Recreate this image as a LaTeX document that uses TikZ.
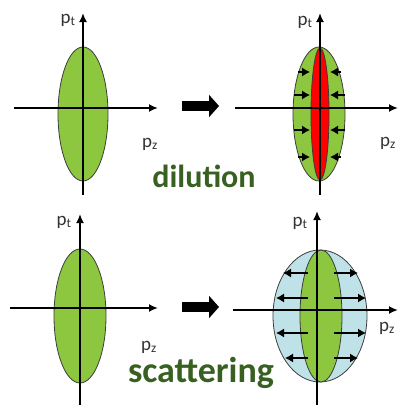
\documentclass[tikz,border=0pt]{standalone}
\usepackage{fontspec}
\setmainfont{Carlito}
\usetikzlibrary{arrows.meta}
\definecolor{leaf}{RGB}{141,198,63}
\definecolor{sky}{RGB}{190,226,231}
\definecolor{txtgreen}{RGB}{56,96,32}
\definecolor{edge}{RGB}{60,60,60}
\tikzset{
  axis/.style={line width=1.8pt, black, -{Latex[length=9pt,width=8pt]}},
  blob/.style={draw=edge, line width=0.8pt},
  flow/.style={line width=1.2pt, black, -{Latex[length=8pt,width=9pt]}},
  bigarrow/.style={line width=10pt, black, -{Triangle[length=10pt,width=22pt]}},
  plabel/.style={text=black!80, font=\fontsize{19}{19}\selectfont, inner sep=0pt},
  caption/.style={text=txtgreen, font=\bfseries, anchor=base, inner sep=0pt},
}
\newcommand{\pt}{p$_{\mathrm{t}}$}
\newcommand{\pz}{p$_{\mathrm{z}}$}
\begin{document}
\begin{tikzpicture}[x=1pt,y=-1pt]
\useasboundingbox (0,0) rectangle (398,407);
% ---------- top left ----------
\fill[blob, fill=leaf] (83,114) ellipse [x radius=25pt, y radius=67pt];
\coordinate (a1s) at (83,195); \coordinate (a1e) at (83,13);
\coordinate (b1s) at (14,108); \coordinate (b1e) at (158,108);
\draw[axis] (a1s) -- (a1e);
\draw[axis] (b1s) -- (b1e);
\node[plabel] (pt1) at (68,20) {\pt};
\node[plabel] (pz1) at (150,144) {\pz};
% big arrow top
\coordinate (ba1s) at (182,106); \coordinate (ba1e) at (219,106);
\draw[bigarrow] (ba1s) -- (ba1e);
% ---------- top right ----------
\fill[blob, fill=leaf] (319,114) ellipse [x radius=26pt, y radius=67pt];
\fill[blob, fill=red] (320,114) ellipse [x radius=9pt, y radius=66pt];
\coordinate (a2s) at (320,195); \coordinate (a2e) at (320,13);
\coordinate (b2s) at (235,108); \coordinate (b2e) at (398,108);
\draw[axis] (a2s) -- (a2e);
\draw[axis] (b2s) -- (b2e);
\foreach \yy/\xl/\xr in {72/298/341, 95/294/345, 130/294/345, 157/298/341}{
  \coordinate (fl) at (\xl,\yy); \coordinate (flt) at (310,\yy);
  \coordinate (fr) at (\xr,\yy); \coordinate (frt) at (330,\yy);
  \draw[flow] (fl) -- (flt);
  \draw[flow] (fr) -- (frt);
}
\node[plabel] (pt2) at (305,22) {\pt};
\node[plabel] (pz2) at (388,143) {\pz};
\node[caption, font=\bfseries\fontsize{32}{32}\selectfont] (dil) at (204,187) {dilution};
% ---------- bottom left ----------
\fill[blob, fill=leaf] (80,316) ellipse [x radius=26pt, y radius=67pt];
\coordinate (a3s) at (80,405); \coordinate (a3e) at (80,214);
\coordinate (b3s) at (10,308); \coordinate (b3e) at (158,308);
\draw[axis] (a3s) -- (a3e);
\draw[axis] (b3s) -- (b3e);
\node[plabel] (pt3) at (64,222) {\pt};
\node[plabel] (pz3) at (149,347) {\pz};
% big arrow bottom
\coordinate (ba2s) at (182,307); \coordinate (ba2e) at (219,307);
\draw[bigarrow] (ba2s) -- (ba2e);
% ---------- bottom right ----------
\fill[blob, fill=sky] (320,316) ellipse [x radius=47pt, y radius=66pt];
\fill[blob, fill=leaf] (321,316) ellipse [x radius=21pt, y radius=66pt];
\coordinate (a4s) at (317,405); \coordinate (a4e) at (317,211);
\coordinate (b4s) at (233,310); \coordinate (b4e) at (398,310);
\draw[axis] (a4s) -- (a4e);
\draw[axis] (b4s) -- (b4e);
\foreach \yy/\xl/\xr in {273/283/358, 298/276/366, 333/276/366, 358/285/358}{
  \coordinate (sl) at (308,\yy); \coordinate (slt) at (\xl,\yy);
  \coordinate (sr) at (334,\yy); \coordinate (srt) at (\xr,\yy);
  \draw[flow] (sl) -- (slt);
  \draw[flow] (sr) -- (srt);
}
\node[plabel] (pt4) at (300,223) {\pt};
\node[plabel] (pz4) at (387,328) {\pz};
\node[caption, font=\bfseries\fontsize{36}{36}\selectfont] (sca) at (201,382) {scattering};
\end{tikzpicture}
\end{document}
